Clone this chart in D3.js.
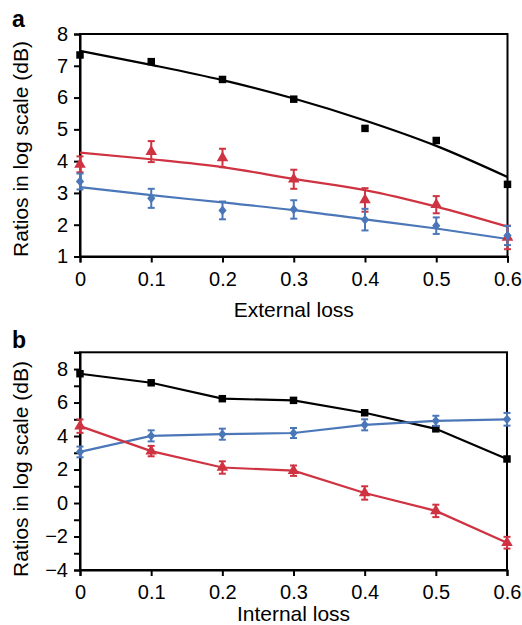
<!DOCTYPE html>
<html>
<head>
<meta charset="utf-8">
<script src="https://cdn.jsdelivr.net/npm/d3@7"></script>
<style>
  body { margin: 0; background: #fff; }
  svg { display: block; font-family: "Liberation Sans", Arial, sans-serif; }
</style>
</head>
<body>
<svg id="chart" width="522" height="625"></svg>
<script>
// shared x values (loss)
var losses = [0, 0.1, 0.2, 0.3, 0.4, 0.5, 0.6];
var xTicks = [0, 0.1, 0.2, 0.3, 0.4, 0.5, 0.6];

// panel a: external loss, measured points + fitted curves
var aBlack = [7.34, 7.13, 6.57, 5.95, 5.03, 4.65, 3.27];
var aBlackFit = [7.47, 7.03, 6.55, 5.97, 5.28, 4.48, 3.50];
var aRed = [3.90, 4.30, 4.10, 3.43, 2.78, 2.63, 1.60];
var aRedErr = [0.25, 0.33, 0.29, 0.30, 0.37, 0.27, 0.37];
var aRedFit = [4.27, 4.06, 3.81, 3.44, 3.09, 2.57, 1.94];
var aBlue = [3.36, 2.83, 2.45, 2.48, 2.16, 1.97, 1.66];
var aBlueErr = [0.25, 0.30, 0.28, 0.29, 0.34, 0.26, 0.30];
var aBlueFit = [3.18, 2.93, 2.70, 2.46, 2.17, 1.88, 1.55];
var aYTicks = [1, 2, 3, 4, 5, 6, 7, 8];

// panel b: internal loss, points joined by lines
var bBlack = [7.72, 7.18, 6.23, 6.13, 5.39, 4.43, 2.63];
var bBlue = [3.05, 4.01, 4.11, 4.18, 4.67, 4.91, 5.00];
var bBlueErr = [0.32, 0.33, 0.33, 0.30, 0.33, 0.30, 0.38];
var bRed = [4.59, 3.10, 2.12, 1.93, 0.60, -0.47, -2.37];
var bRedErr = [0.40, 0.31, 0.37, 0.31, 0.40, 0.37, 0.35];
var bYTicks = [-4, -3, -2, -1, 0, 1, 2, 3, 4, 5, 6, 7, 8, 9];

var BLACK = "#000", RED = "#cf3341", BLUE = "#4b77b9";

var svg = d3.select("#chart");

var zip = function (vals, errs) {
    return losses.map(function (x, i) {
        return {x: x, y: vals[i], e: errs ? errs[i] : 0};
    });
};

var drawPanel = function (opt) {
    var g = svg.append("g");
    var x = d3.scaleLinear().domain([0, 0.6]).range([opt.left, opt.right]);
    var y = d3.scaleLinear().domain(opt.yDomain).range([opt.bottom, opt.top]);

    // frame
    g.append("rect")
        .attr("x", opt.left).attr("y", opt.top)
        .attr("width", opt.right - opt.left).attr("height", opt.bottom - opt.top)
        .attr("fill", "none").attr("stroke", "#000").attr("stroke-width", 2);

    var ax = g.append("g")
        .attr("transform", "translate(0," + opt.bottom + ")")
        .call(d3.axisBottom(x).tickValues(xTicks).tickSize(6).tickPadding(9)
            .tickFormat(function (d) { return d === 0 ? "0" : d3.format(".1f")(d); }));
    var ay = g.append("g")
        .attr("transform", "translate(" + opt.left + ",0)")
        .call(d3.axisLeft(y).tickValues(opt.yTicks).tickSize(6).tickPadding(6)
            .tickFormat(function (d) { return opt.yLabel(d) ? d3.format("")(d).replace("-", "\u2212") : ""; }));
    [ax, ay].forEach(function (a) {
        a.select(".domain").attr("stroke-width", 2);
        a.selectAll(".tick line").attr("stroke-width", 2);
        a.selectAll("text").attr("font-size", 20).attr("fill", "#000")
            .attr("font-family", "Liberation Sans, Arial, sans-serif");
    });

    // axis titles
    g.append("text")
        .attr("x", (opt.left + opt.right) / 2).attr("y", opt.xTitleY)
        .attr("text-anchor", "middle").attr("font-size", 21)
        .text(opt.xTitle);
    g.append("text")
        .attr("transform", "translate(28," + opt.yTitleY + ") rotate(-90)")
        .attr("text-anchor", "middle").attr("font-size", 21)
        .text("Ratios in log scale (dB)");
    g.append("text")
        .attr("x", 12).attr("y", opt.labelY)
        .attr("font-size", 23).attr("font-weight", "bold")
        .text(opt.label);

    var line = d3.line()
        .x(function (d) { return x(d.x); })
        .y(function (d) { return y(d.y); })
        .curve(opt.curve);

    opt.series.forEach(function (s) {
        g.append("path")
            .datum(zip(s.line))
            .attr("fill", "none").attr("stroke", s.color)
            .attr("stroke-width", 2.2).attr("d", line);
    });

    opt.series.forEach(function (s) {
        var pts = zip(s.pts, s.err);
        if (s.err) {
            var eb = g.append("g").attr("stroke", s.color).attr("stroke-width", 2);
            pts.forEach(function (d) {
                eb.append("line")
                    .attr("x1", x(d.x)).attr("x2", x(d.x))
                    .attr("y1", y(d.y - d.e)).attr("y2", y(d.y + d.e));
                [d.y - d.e, d.y + d.e].forEach(function (v) {
                    eb.append("line")
                        .attr("x1", x(d.x) - 3.5).attr("x2", x(d.x) + 3.5)
                        .attr("y1", y(v)).attr("y2", y(v));
                });
            });
        }
        g.selectAll(null)
            .data(pts)
            .enter().append("path")
            .attr("transform", function (d) { return "translate(" + x(d.x) + "," + y(d.y) + ")"; })
            .attr("d", d3.symbol().type(s.symbol).size(s.size))
            .attr("fill", s.color);
    });
};

var diamond = {
    draw: function (ctx, size) {
        var r = Math.sqrt(size) / 2 * 1.3;
        ctx.moveTo(0, -r);
        ctx.lineTo(r * 0.85, 0);
        ctx.lineTo(0, r);
        ctx.lineTo(-r * 0.85, 0);
        ctx.closePath();
    }
};

drawPanel({
    left: 80, right: 507.5, top: 34, bottom: 256.5,
    yDomain: [1, 8], yTicks: aYTicks, yLabel: function () { return true; },
    xTitle: "External loss", xTitleY: 317, yTitleY: 149,
    label: "a", labelY: 27,
    curve: d3.curveMonotoneX,
    series: [
        {color: BLACK, pts: aBlack, line: aBlackFit, symbol: d3.symbolSquare, size: 56},
        {color: RED, pts: aRed, err: aRedErr, line: aRedFit, symbol: d3.symbolTriangle, size: 58},
        {color: BLUE, pts: aBlue, err: aBlueErr, line: aBlueFit, symbol: diamond, size: 56}
    ]
});

drawPanel({
    left: 80, right: 507, top: 352.3, bottom: 570,
    yDomain: [-4, 9], yTicks: bYTicks, yLabel: function (d) { return d % 2 === 0 && d < 9; },
    xTitle: "Internal loss", xTitleY: 621, yTitleY: 469,
    label: "b", labelY: 348,
    curve: d3.curveLinear,
    series: [
        {color: BLACK, pts: bBlack, line: bBlack, symbol: d3.symbolSquare, size: 56},
        {color: BLUE, pts: bBlue, err: bBlueErr, line: bBlue, symbol: diamond, size: 56},
        {color: RED, pts: bRed, err: bRedErr, line: bRed, symbol: d3.symbolTriangle, size: 58}
    ]
});
</script>
</body>
</html>
